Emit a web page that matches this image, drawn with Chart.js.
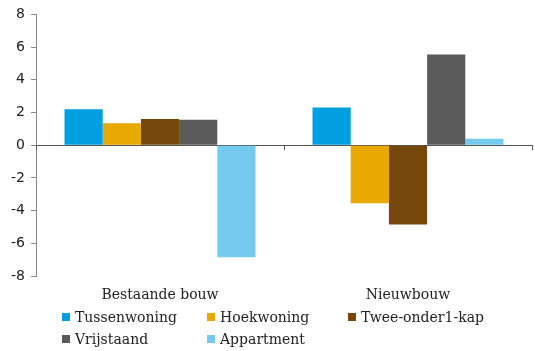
<!DOCTYPE html>
<html lang="nl">
<head>
    <meta charset="UTF-8">
    <title>Woningtypen</title>
    <script src="https://cdn.jsdelivr.net/npm/chart.js"></script>
    <style>
        body {
            margin: 0;
            background: #ffffff;
        }
        .wrap {
            position: relative;
            width: 535px;
            height: 351px;
        }
        #legend {
            position: absolute;
            left: 62px;
            top: 307px;
            display: grid;
            grid-template-columns: 145px 141px 150px;
            row-gap: 2px;
            font-family: "DejaVu Serif", serif;
            font-size: 14px;
            color: #222;
        }
        #legend div {
            height: 20px;
            line-height: 20px;
            white-space: nowrap;
        }
        #legend span.box {
            display: inline-block;
            width: 8px;
            height: 8px;
            margin-right: 5px;
            vertical-align: 1px;
        }
    </style>
</head>
<body>
<div class="wrap">
    <canvas id="chart" width="535" height="351"></canvas>
    <div id="legend"></div>
</div>
<script>
    // categorieën en reeksen
    const categories = ['Bestaande bouw', 'Nieuwbouw'];
    const seriesNames = ['Tussenwoning', 'Hoekwoning', 'Twee-onder1-kap', 'Vrijstaand', 'Appartment'];
    const tussenwoning = [2.2, 2.3];
    const hoekwoning = [1.35, -3.55];
    const tweeOnderEenKap = [1.6, -4.85];
    const vrijstaand = [1.55, 5.55];
    const appartment = [-6.85, 0.4];
    const yTicks = [-8, -6, -4, -2, 0, 2, 4, 6, 8];

    const colors = ['#009fe0', '#e8a900', '#76470a', '#5a5a5a', '#74cbef'];
    const values = [tussenwoning, hoekwoning, tweeOnderEenKap, vrijstaand, appartment];

    // tickjes op de nullijn tussen de categorieën
    const zeroTicks = {
        id: 'zeroTicks',
        afterDatasetsDraw(chart) {
            const { ctx, scales: { x, y } } = chart;
            const y0 = y.getPixelForValue(0);
            ctx.save();
            ctx.strokeStyle = '#555';
            ctx.lineWidth = 1;
            for (let i = 0; i <= categories.length; i++) {
                const px = Math.round(x.left + (x.width / categories.length) * i) + 0.5;
                ctx.beginPath();
                ctx.moveTo(px, y0);
                ctx.lineTo(px, y0 + 5);
                ctx.stroke();
            }
            ctx.restore();
        }
    };

    const chart = new Chart(document.getElementById('chart'), {
        type: 'bar',
        data: {
            labels: categories,
            datasets: seriesNames.map((name, i) => ({
                label: name,
                data: values[i],
                backgroundColor: colors[i],
                borderWidth: 0,
                barPercentage: 1,
                categoryPercentage: 0.77
            }))
        },
        options: {
            responsive: false,
            animation: false,
            layout: { padding: { left: 0, right: 3, top: 8, bottom: 50 } },
            plugins: {
                legend: { display: false },
                tooltip: { enabled: false }
            },
            scales: {
                x: {
                    grid: { display: false, drawTicks: false },
                    border: { display: false },
                    ticks: {
                        padding: 11,
                        color: '#222',
                        font: { family: 'DejaVu Serif', size: 14 }
                    },
                    afterFit(scale) { scale.height = 25; }
                },
                y: {
                    min: -8,
                    max: 8,
                    afterBuildTicks(scale) { scale.ticks = yTicks.map(v => ({ value: v })); },
                    grid: {
                        color: c => (c.tick && c.tick.value === 0 ? '#555' : 'rgba(0,0,0,0)'),
                        tickColor: '#888',
                        tickLength: 5,
                        lineWidth: 1
                    },
                    border: { color: '#888', width: 1 },
                    ticks: {
                        padding: 6,
                        color: '#222',
                        font: { family: 'DejaVu Sans', size: 14 }
                    },
                    afterFit(scale) { scale.width = 36; }
                }
            }
        },
        plugins: [zeroTicks]
    });

    // legenda in kolommen, zoals in het origineel
    const legend = document.getElementById('legend');
    chart.data.datasets.forEach(ds => {
        const item = document.createElement('div');
        const box = document.createElement('span');
        box.className = 'box';
        box.style.background = ds.backgroundColor;
        item.appendChild(box);
        item.appendChild(document.createTextNode(ds.label));
        legend.appendChild(item);
    });
</script>
</body>
</html>
